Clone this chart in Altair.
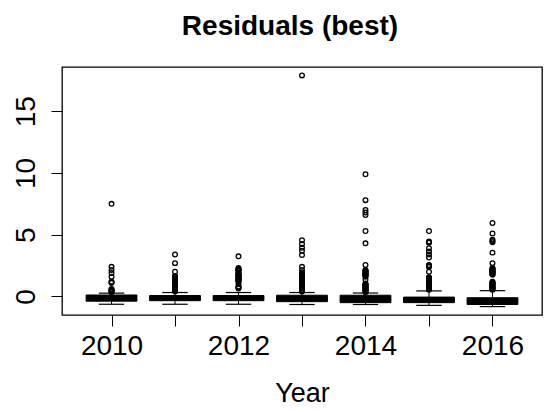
import altair as alt
import pandas as pd

# Yearly residual summaries (box: q1..q3, median, whisker ends)
years = [2010, 2011, 2012, 2013, 2014, 2015, 2016]
q1 = [-0.38, -0.34, -0.34, -0.42, -0.50, -0.50, -0.65]
median = [-0.12, -0.12, -0.12, -0.18, -0.20, -0.25, -0.35]
q3 = [0.12, 0.08, 0.08, 0.10, 0.10, -0.05, -0.10]
whisker_lo = [-0.63, -0.63, -0.63, -0.65, -0.65, -0.72, -0.82]
whisker_hi = [0.27, 0.32, 0.32, 0.32, 0.28, 0.45, 0.47]

# Outlying residuals per year
out_2010 = [7.5, 2.4, 2.15, 1.9, 1.6, 1.2, 1.15, 1.1, 0.6, 0.55, 0.5, 0.45, 0.4, 0.35]
out_2011 = [3.4, 2.7, 2.0, 1.65, 1.6, 1.55, 1.5, 1.45, 1.4, 1.35, 1.3, 1.25, 1.2,
            1.15, 1.1, 1.05, 1.0, 0.95, 0.9, 0.85, 0.8, 0.7, 0.65, 0.6, 0.55, 0.5,
            0.45, 0.4]
out_2012 = [3.25, 2.3, 2.25, 2.2, 2.15, 2.1, 2.05, 1.9, 1.85, 1.8, 1.75, 1.7, 1.65,
            1.6, 1.55, 1.5, 1.45, 1.4, 1.35, 1.3, 1.25, 1.2, 1.0, 0.8, 0.75, 0.7,
            0.65]
out_2013 = [17.9, 4.55, 4.25, 3.95, 3.7, 3.35, 2.4, 2.15, 1.95, 1.85, 1.75, 1.65,
            1.6, 1.55, 1.5, 1.45, 1.4, 1.3, 1.25, 1.2, 1.1, 1.05, 1.0, 0.8, 0.65,
            0.55, 0.45, 0.4]
out_2014 = [9.9, 7.8, 7.0, 6.8, 6.6, 5.3, 4.3, 2.55, 2.15, 2.1, 2.05, 2.0, 1.95,
            1.9, 1.85, 1.8, 1.75, 1.7, 1.65, 1.6, 1.35, 1.05, 1.0, 0.95, 0.9, 0.85,
            0.8, 0.75, 0.7, 0.65, 0.6, 0.55, 0.5, 0.45, 0.4, 0.35]
out_2015 = [5.3, 4.45, 4.4, 4.35, 3.9, 3.65, 3.4, 3.15, 2.55, 2.5, 2.45, 2.4, 2.0,
            1.55, 1.5, 1.45, 1.4, 1.35, 1.3, 1.25, 1.2, 1.15, 1.1, 1.05, 1.0, 0.95,
            0.9, 0.85, 0.8, 0.75, 0.7, 0.65, 0.6, 0.55]
out_2016 = [5.95, 5.1, 4.6, 4.5, 4.4, 3.55, 2.7, 2.3, 2.25, 2.2, 2.15, 2.1, 2.05,
            2.0, 1.95, 1.9, 1.85, 1.8, 1.75, 1.2, 1.15, 1.1, 1.05, 1.0, 0.95, 0.9,
            0.85, 0.8, 0.75, 0.7, 0.65, 0.6, 0.55]
outliers = [out_2010, out_2011, out_2012, out_2013, out_2014, out_2015, out_2016]

y_ticks = [0, 5, 10, 15]

FONT = "Liberation Sans"

box_df = pd.DataFrame({
    "year": years, "q1": q1, "median": median, "q3": q3,
    "lo": whisker_lo, "hi": whisker_hi,
})
out_df = pd.DataFrame(
    [{"year": y, "value": v} for y, vals in zip(years, outliers) for v in vals]
)

xscale = alt.Scale(domain=[2009.22, 2016.78], nice=False, zero=False)
yscale = alt.Scale(domain=[-1.5, 18.58], nice=False, zero=False)

xaxis = alt.Axis(
    values=years, format="d",
    labelExpr="datum.value % 2 == 0 ? datum.label : ''",
    domain=False, grid=False, tickSize=11, tickColor="black", tickWidth=1,
    labelFont=FONT, labelFontSize=28, labelColor="black", labelPadding=6,
    labelFlush=False, labelOverlap=False,
    title="Year", titleFont=FONT, titleFontSize=27, titleFontWeight="normal",
    titleColor="black", titleY=86, titleBaseline="alphabetic",
)
yaxis = alt.Axis(
    values=y_ticks, domain=False, grid=False, tickSize=11, tickColor="black",
    tickWidth=1, labelFont=FONT, labelFontSize=28, labelColor="black",
    labelAngle=270, labelAlign="center", labelBaseline="alphabetic",
    labelPadding=17, labelFlush=False, labelOverlap=False, title=None,
)

base = alt.Chart(box_df).transform_calculate(
    left="datum.year - 0.4", right="datum.year + 0.4",
    cl="datum.year - 0.2", cr="datum.year + 0.2",
)

whisker = base.mark_rule(color="black", strokeWidth=1).encode(
    x=alt.X("year:Q", scale=xscale, axis=xaxis),
    y=alt.Y("lo:Q", scale=yscale, axis=yaxis),
    y2="hi:Q",
)
cap_lo = base.mark_rule(color="black", strokeWidth=1.2).encode(
    x=alt.X("cl:Q", scale=xscale, axis=xaxis), x2="cr:Q",
    y=alt.Y("lo:Q", scale=yscale, axis=yaxis),
)
cap_hi = base.mark_rule(color="black", strokeWidth=1.2).encode(
    x=alt.X("cl:Q", scale=xscale, axis=xaxis), x2="cr:Q",
    y=alt.Y("hi:Q", scale=yscale, axis=yaxis),
)
box = base.mark_rect(color="black", stroke="black", strokeWidth=1).encode(
    x=alt.X("left:Q", scale=xscale, axis=xaxis), x2="right:Q",
    y=alt.Y("q1:Q", scale=yscale, axis=yaxis), y2="q3:Q",
)
mid = base.mark_rule(color="black", strokeWidth=3).encode(
    x=alt.X("left:Q", scale=xscale, axis=xaxis), x2="right:Q",
    y=alt.Y("median:Q", scale=yscale, axis=yaxis),
)
points = alt.Chart(out_df).mark_point(
    shape="circle", filled=False, size=22, strokeWidth=1.3, color="black", opacity=1,
).encode(
    x=alt.X("year:Q", scale=xscale, axis=xaxis),
    y=alt.Y("value:Q", scale=yscale, axis=yaxis),
)

chart = alt.layer(whisker, cap_lo, cap_hi, box, mid, points).properties(
    width=480, height=248,
    background="white",
    title=alt.TitleParams(
        "Residuals (best)", font=FONT, fontSize=28, fontWeight="bold",
        color="black", anchor="middle", baseline="alphabetic", offset=4, dx=-12,
    ),
    autosize=alt.AutoSizeParams(type="none"),
    padding={"left": 62, "top": 67, "right": 2, "bottom": 97},
).configure_view(stroke="black", strokeWidth=1.3)

chart.save("out.html", embed_options={"renderer": "svg", "actions": False})
